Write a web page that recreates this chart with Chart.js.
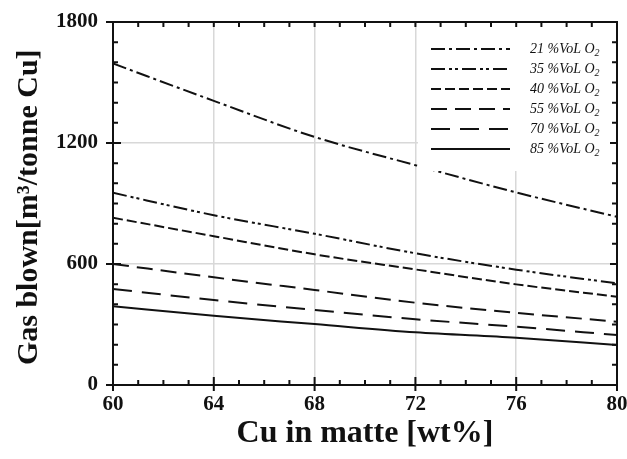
<!DOCTYPE html>
<html>
<head>
<meta charset="utf-8">
<script src="https://cdn.jsdelivr.net/npm/chart.js@4/dist/chart.umd.min.js"></script>
<style>
  html, body { margin: 0; padding: 0; background: #fff; }
  #wrap { width: 627px; height: 459px; }
</style>
</head>
<body>
<div id="wrap"><canvas id="gasChart" width="627" height="459"></canvas></div>
<script>
// Cu in matte [wt%] where the curves were read
const cuMatte = [60, 64, 68, 72, 76, 80];
const o2Labels = ['21', '35', '40', '55', '70', '85'];
// gas blown [m3/tonne Cu] for each oxygen enrichment
const gas21 = [1594, 1409, 1230, 1090, 955, 834];
const gas35 = [953, 842, 750, 653, 572, 504];
const gas40 = [829, 738, 648, 573, 499, 438];
const gas55 = [600, 534, 471, 408, 358, 314];
const gas70 = [476, 421, 372, 326, 289, 248];
const gas85 = [391, 343, 302, 261, 234, 198];
const xTicks = [60, 64, 68, 72, 76, 80];
const yTicks = [0, 600, 1200, 1800];

const serif = '"Liberation Serif", "Times New Roman", serif';
const dashes = [[14, 4, 3, 4], [14, 4, 3, 3, 3, 4], [10, 4], [16, 8], [19, 10], []];
const series = [gas21, gas35, gas40, gas55, gas70, gas85];

const datasets = series.map((vals, i) => ({
  label: o2Labels[i] + ' %VoL O2',
  data: vals.map((v, j) => ({ x: cuMatte[j], y: v })),
  borderColor: '#111',
  borderWidth: 2,
  borderDash: dashes[i],
  pointRadius: 0,
  cubicInterpolationMode: 'monotone',
  fill: false
}));

// frame, inward ticks and the boxed legend
const framePlugin = {
  id: 'frame',
  afterDatasetsDraw(chart) {
    const { ctx, chartArea: a } = chart;
    ctx.save();
    // legend box
    ctx.fillStyle = '#fff';
    ctx.fillRect(418, a.top, a.right - 418, 171 - a.top);
    ctx.strokeStyle = '#111';
    ctx.fillStyle = '#111';
    ctx.lineWidth = 2;
    datasets.forEach((ds, i) => {
      const ly = 49 + i * 20;
      ctx.setLineDash(ds.borderDash);
      ctx.beginPath();
      ctx.moveTo(431, ly);
      ctx.lineTo(510, ly);
      ctx.stroke();
      ctx.setLineDash([]);
      ctx.font = 'italic 14px ' + serif;
      ctx.textBaseline = 'middle';
      ctx.textAlign = 'left';
      const txt = o2Labels[i] + ' %VoL O';
      ctx.fillText(txt, 530, ly);
      const w = ctx.measureText(txt).width;
      ctx.font = 'italic 10px ' + serif;
      ctx.fillText('2', 530 + w, ly + 4);
    });
    ctx.restore();
  },
  afterDraw(chart) {
    const { ctx, chartArea: a, scales: { x, y } } = chart;
    ctx.save();
    ctx.strokeStyle = '#111';
    ctx.lineWidth = 2;
    ctx.setLineDash([]);
    ctx.strokeRect(a.left, a.top, a.right - a.left, a.bottom - a.top);
    ctx.beginPath();
    for (let v = 0; v <= 1800; v += 100) {
      const py = y.getPixelForValue(v);
      const major = v % 600 === 0;
      ctx.moveTo(a.left - (major ? 7 : 0), py);
      ctx.lineTo(a.left + (major ? 8 : 5), py);
      ctx.moveTo(a.right, py);
      ctx.lineTo(a.right - (major ? 7 : 5), py);
    }
    for (let v = 60; v <= 80; v += 1) {
      const px = x.getPixelForValue(v);
      const major = v % 4 === 0;
      ctx.moveTo(px, a.bottom + (major ? 6 : 0));
      ctx.lineTo(px, a.bottom - (major ? 8 : 5));
      ctx.moveTo(px, a.top);
      ctx.lineTo(px, a.top + 5);
    }
    ctx.stroke();
    ctx.restore();
  }
};

new Chart(document.getElementById('gasChart'), {
  type: 'line',
  data: { datasets },
  options: {
    responsive: false,
    animation: false,
    devicePixelRatio: 1,
    layout: { padding: { top: 22, right: 10, left: 0, bottom: 0 } },
    plugins: { legend: { display: false }, tooltip: { enabled: false } },
    scales: {
      x: {
        type: 'linear',
        min: 60,
        max: 80,
        afterBuildTicks(scale) { scale.ticks = xTicks.map(v => ({ value: v })); },
        afterFit(scale) {
          scale.height = 74;
          scale.paddingLeft = 0;
          scale.paddingRight = 0;
        },
        ticks: { color: '#111', padding: 7, font: { family: serif, size: 21, weight: 'bold' }, callback: v => String(v) },
        grid: {
          drawTicks: false,
          lineWidth: 1.5,
          color: c => (c.tick && (c.tick.value === 60 || c.tick.value === 80)) ? 'rgba(0,0,0,0)' : '#d8d8d8'
        },
        border: { display: false },
        title: {
          display: true,
          text: 'Cu in matte [wt%]',
          color: '#111',
          padding: { top: 0, bottom: 6 },
          font: { family: serif, size: 32, weight: 'bold' }
        }
      },
      y: {
        min: 0,
        max: 1800,
        afterBuildTicks(scale) { scale.ticks = yTicks.map(v => ({ value: v })); },
        afterFit(scale) {
          scale.width = 113;
          scale.paddingTop = 0;
          scale.paddingBottom = 0;
        },
        ticks: { color: '#111', padding: 15, font: { family: serif, size: 21, weight: 'bold' }, callback: v => String(v) },
        grid: {
          drawTicks: false,
          lineWidth: 1.5,
          color: c => (c.tick && (c.tick.value === 0 || c.tick.value === 1800)) ? 'rgba(0,0,0,0)' : '#d8d8d8'
        },
        border: { display: false },
        title: {
          display: true,
          text: 'Gas blown[m³/tonne Cu] ',
          color: '#111',
          padding: { top: 11, bottom: 0 },
          font: { family: serif, size: 30, weight: 'bold' }
        }
      }
    }
  },
  plugins: [framePlugin]
});
</script>
</body>
</html>
